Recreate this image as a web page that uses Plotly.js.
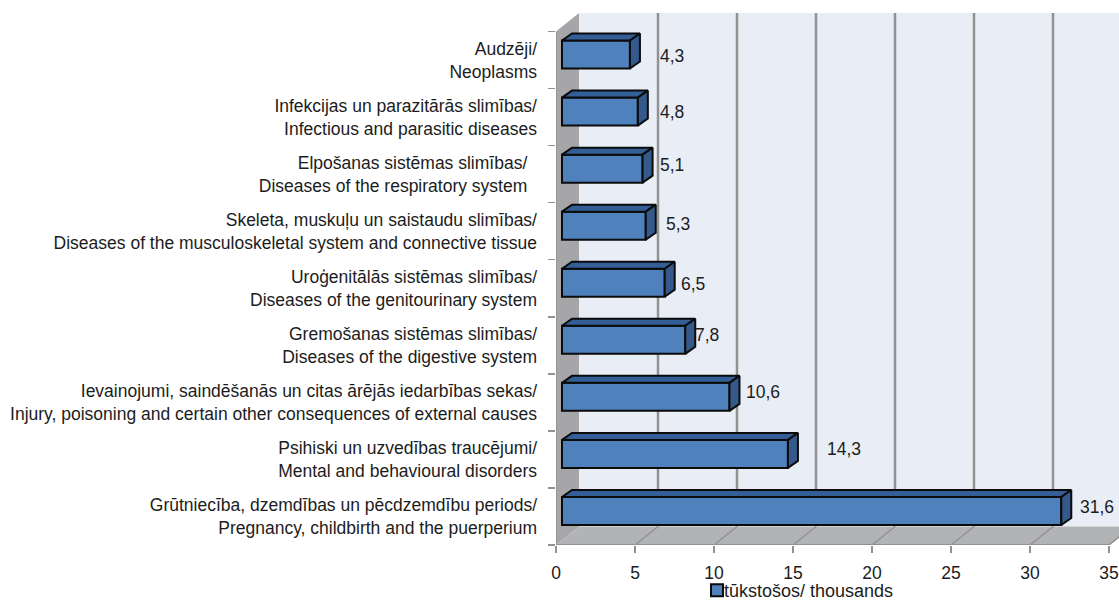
<!DOCTYPE html>
<html><head><meta charset="utf-8">
<script src="https://cdn.plot.ly/plotly-3.0.1.min.js"></script>
<style>html,body{margin:0;padding:0;background:#fff}#c{width:1119px;height:601px}</style>
</head><body><div id="c"></div>
<script>
// bottom to top
const categories = [
 "Grūtniecība, dzemdības un pēcdzemdību periods/<br>Pregnancy, childbirth and the puerperium",
 "Psihiski un uzvedības traucējumi/<br>Mental and behavioural disorders",
 "Ievainojumi, saindēšanās un citas ārējās iedarbības sekas/<br>Injury, poisoning and certain other consequences of external causes",
 "Gremošanas sistēmas slimības/<br>Diseases of the digestive system",
 "Uroģenitālās sistēmas slimības/<br>Diseases of the genitourinary system",
 "Skeleta, muskuļu un saistaudu slimības/<br>Diseases of the musculoskeletal system and connective tissue",
 "Elpošanas sistēmas slimības/\u00a0\u00a0<br>Diseases of the respiratory system\u00a0\u00a0",
 "Infekcijas un parazitārās slimības/<br>Infectious and parasitic diseases",
 "Audzēji/<br>Neoplasms"
];
const values = [31.6, 14.3, 10.6, 7.8, 6.5, 5.3, 5.1, 4.8, 4.3];
const labelShiftX = [7, 27, 5, -2, 4, 8, 5, 10, 18];
const labelShiftY = [0, 1, 1, 1, -5, -2, 0, -4, -5];
const xTicks = [0, 5, 10, 15, 20, 25, 30, 35];
const seriesName = "tūkstošos/ thousands";

const FONT = '"Liberation Sans",Arial,sans-serif';
const ink = '#1c1c1c', wallLine = '#929292';
const pxX = 15.8, pxY = 57;
const wallDX = 23 / pxX, wallDY = 18.5 / pxY;
const barDX = 10 / pxX, barDY = 7 / pxY;
const barBase = 6 / pxX, barLow = -0.149, barH = 0.491;
const yBottom = -0.5, yFront = 8.5, yTop = 8.5 + wallDY;
const pos = values.map((_, i) => i);

// 3D faces derived from the values
function faces(fn) {
  const xs = [], ys = [];
  values.forEach((v, i) => {
    const p = fn(barBase + v, i + barLow, i + barLow + barH);
    p.forEach(q => { xs.push(q[0]); ys.push(q[1]); });
    xs.push(null); ys.push(null);
  });
  return { x: xs, y: ys };
}
const top3d = faces((e, lo, hi) => [[barBase, hi], [e, hi], [e + barDX, hi + barDY], [barBase + barDX, hi + barDY], [barBase, hi]]);
const side3d = faces((e, lo, hi) => [[e, lo], [e, hi], [e + barDX, hi + barDY], [e + barDX, lo + barDY], [e, lo]]);

const traces = [
  { type: 'bar', orientation: 'h', name: seriesName, y: pos, x: values, base: barBase, offset: barLow, width: barH,
    marker: { color: '#4f81bd', line: { color: '#0b0b0b', width: 2 } }, showlegend: true },
  { type: 'scatter', mode: 'lines', x: top3d.x, y: top3d.y, fill: 'toself', fillcolor: '#335f96',
    line: { color: '#0b0b0b', width: 2 }, showlegend: false },
  { type: 'scatter', mode: 'lines', x: side3d.x, y: side3d.y, fill: 'toself', fillcolor: '#34598a',
    line: { color: '#0b0b0b', width: 2 }, showlegend: false }
];

function poly(pts, fill, lineCol, w) {
  return { type: 'path', xref: 'x', yref: 'y', layer: 'below',
    path: 'M' + pts.map(p => p[0] + ',' + p[1]).join('L') + 'Z',
    fillcolor: fill, line: { color: lineCol || fill, width: w || 0 } };
}
function seg(x0, y0, x1, y1, col, w) {
  return { type: 'line', xref: 'x', yref: 'y', layer: 'below', x0, y0, x1, y1, line: { color: col, width: w } };
}
const xEnd = xTicks[xTicks.length - 1];
const shapes = [
  poly([[wallDX, yBottom + wallDY], [wallDX, yTop], [xEnd + wallDX, yTop], [xEnd + wallDX, yBottom + wallDY]], '#e9edf6'),
  poly([[0, yBottom], [wallDX, yBottom + wallDY], [wallDX, yTop], [0, yFront]], '#a6a6a8'),
  poly([[0, yBottom], [xEnd, yBottom], [xEnd + wallDX, yBottom + wallDY], [wallDX, yBottom + wallDY]], '#b2b3b5')
];
xTicks.forEach(t => {
  if (t > 0) shapes.push(seg(t + wallDX, yBottom + wallDY, t + wallDX, yTop, wallLine, 2.5));
  if (t > 0) shapes.push(seg(t, yBottom, t + wallDX, yBottom + wallDY, wallLine, 1.5));
});
shapes.push(seg(0, yBottom, 0, yFront, wallLine, 1.5));
shapes.push(seg(0, yBottom, xEnd, yBottom, wallLine, 2));

const annotations = values.map((v, i) => ({
  x: barBase + v + barDX, y: i + barLow + barH / 2 + barDY / 2, xref: 'x', yref: 'y',
  text: String(v).replace('.', ','), showarrow: false, xanchor: 'left', yanchor: 'middle',
  xshift: labelShiftX[i], yshift: labelShiftY[i], font: { family: FONT, size: 17.5, color: ink }
}));

const layout = {
  width: 1119, height: 601, margin: { l: 556, r: 0, t: 13, b: 56, pad: 0, autoexpand: false },
  paper_bgcolor: '#fff', plot_bgcolor: 'rgba(0,0,0,0)', hovermode: false,
  font: { family: FONT, size: 17.5, color: ink },
  xaxis: { range: [0, 563 / pxX], tickvals: xTicks, ticktext: xTicks.map(String), tickangle: 0, ticks: 'outside', ticklen: 7, tickwidth: 1.5,
    tickcolor: wallLine, showgrid: false, zeroline: false, showline: false, ticklabelstandoff: 5,
    tickfont: { family: FONT, size: 17.5, color: ink } },
  yaxis: { range: [yBottom, yTop], tickvals: pos, ticktext: categories, ticks: '', showgrid: false, zeroline: false, showline: false,
    ticklabelstandoff: 18, tickfont: { family: FONT, size: 17.5, color: ink },
    minor: { tickvals: pos.concat([pos.length]).map(p => p - 0.5), ticks: 'outside', ticklen: 7, tickwidth: 1.5, tickcolor: wallLine, showgrid: false } },
  showlegend: true,
  legend: { x: 697 / 1119, xref: 'container', y: 1 - 572 / 601, yref: 'container', yanchor: 'top', xanchor: 'left', bgcolor: 'rgba(0,0,0,0)', borderwidth: 0,
    font: { family: FONT, size: 18, color: ink } },
  shapes, annotations
};
Plotly.newPlot('c', traces, layout, { staticPlot: true, displayModeBar: false }).then(gd => {
  // the reference keeps its legend text right next to the swatch
  gd.querySelectorAll('.legend .legendtext').forEach(t => t.setAttribute('x', '27'));
});
</script></body></html>
